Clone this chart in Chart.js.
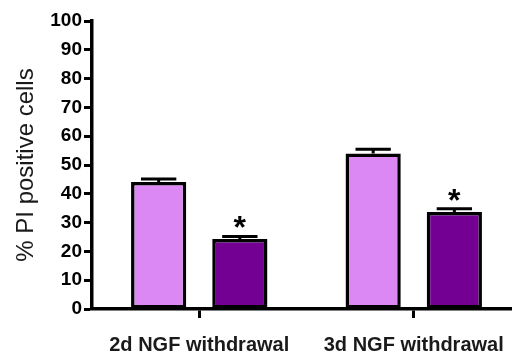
<!DOCTYPE html>
<html>
<head>
<meta charset="utf-8">
<script src="https://cdn.jsdelivr.net/npm/chart.js@4/dist/chart.umd.min.js"></script>
<style>
  html, body { margin: 0; padding: 0; background: #fff; overflow: hidden; }
  #wrap { width: 521px; height: 354px; }
</style>
</head>
<body>
<div id="wrap"><canvas id="c"></canvas></div>
<script>
const categories = ["2d NGF withdrawal", "3d NGF withdrawal"];
const controlValues = [44.1, 54.0];
const controlErrors = [1.0, 1.5];
const treatedValues = [24.3, 33.7];
const treatedErrors = [0.9, 1.1];
const treatedSignificant = [true, true];
const yTicks = [0, 10, 20, 30, 40, 50, 60, 70, 80, 90, 100];

const errorPlugin = {
  id: 'errorBars',
  afterDatasetsDraw(chart) {
    const ctx = chart.ctx;
    const y = chart.scales.y;
    chart.data.datasets.forEach((ds, di) => {
      const meta = chart.getDatasetMeta(di);
      meta.data.forEach((bar, i) => {
        const v = ds.data[i];
        const e = ds.errors[i];
        const top = y.getPixelForValue(v + e);
        const base = y.getPixelForValue(v);
        const half = bar.width * 0.32;
        ctx.save();
        ctx.strokeStyle = '#000';
        ctx.lineWidth = 3;
        ctx.beginPath();
        ctx.moveTo(bar.x, base);
        ctx.lineTo(bar.x, top);
        ctx.moveTo(bar.x - half, top);
        ctx.lineTo(bar.x + half, top);
        ctx.stroke();
        if (ds.significant && ds.significant[i]) {
          ctx.fillStyle = '#000';
          ctx.font = 'bold 32px "Liberation Sans", Arial, sans-serif';
          ctx.textAlign = 'center';
          ctx.textBaseline = 'alphabetic';
          ctx.fillText('*', bar.x, top + 2);
        }
        ctx.restore();
      });
    });
  }
};

new Chart(document.getElementById('c'), {
  type: 'bar',
  data: {
    labels: categories,
    datasets: [
      {
        data: controlValues,
        errors: controlErrors,
        backgroundColor: '#DC88F4',
        borderColor: '#000',
        borderWidth: 3.5,
        borderSkipped: false,
        categoryPercentage: 0.757,
        barPercentage: 0.68
      },
      {
        data: treatedValues,
        errors: treatedErrors,
        significant: treatedSignificant,
        backgroundColor: '#730093',
        borderColor: '#000',
        borderWidth: 3.5,
        borderSkipped: false,
        categoryPercentage: 0.757,
        barPercentage: 0.68
      }
    ]
  },
  options: {
    responsive: true,
    maintainAspectRatio: false,
    animation: false,
    layout: { padding: { top: 21, left: 0, right: 0, bottom: 0 } },
    plugins: { legend: { display: false }, tooltip: { enabled: false } },
    scales: {
      x: {
        type: 'category',
        offset: true,
        grid: { display: true, drawOnChartArea: false, offset: false, tickLength: 9, tickWidth: 3, tickColor: '#000' },
        border: { display: true, color: '#000', width: 3.5 },
        ticks: { color: '#1a1a1a', font: { family: '"Liberation Sans", Arial, sans-serif', size: 20, weight: 'bold' }, padding: 15, maxRotation: 0 },
        afterFit(scale) { scale.height = 45; }
      },
      y: {
        min: 0,
        max: 100,
        afterBuildTicks(scale) { scale.ticks = yTicks.map(v => ({ value: v })); },
        grid: { display: true, drawOnChartArea: false, tickLength: 8, tickWidth: 3, tickColor: '#000' },
        border: { display: true, color: '#000', width: 3.5 },
        ticks: { color: '#000', font: { family: '"Liberation Sans", Arial, sans-serif', size: 19, weight: 'bold' }, padding: 2 },
        title: { display: true, text: '% PI positive cells', color: '#1a1a1a', font: { family: '"Liberation Sans", Arial, sans-serif', size: 24 }, padding: { top: 12, bottom: 0 } },
        afterFit(scale) { scale.width = 92; }
      }
    }
  },
  plugins: [errorPlugin]
});
</script>
</body>
</html>
